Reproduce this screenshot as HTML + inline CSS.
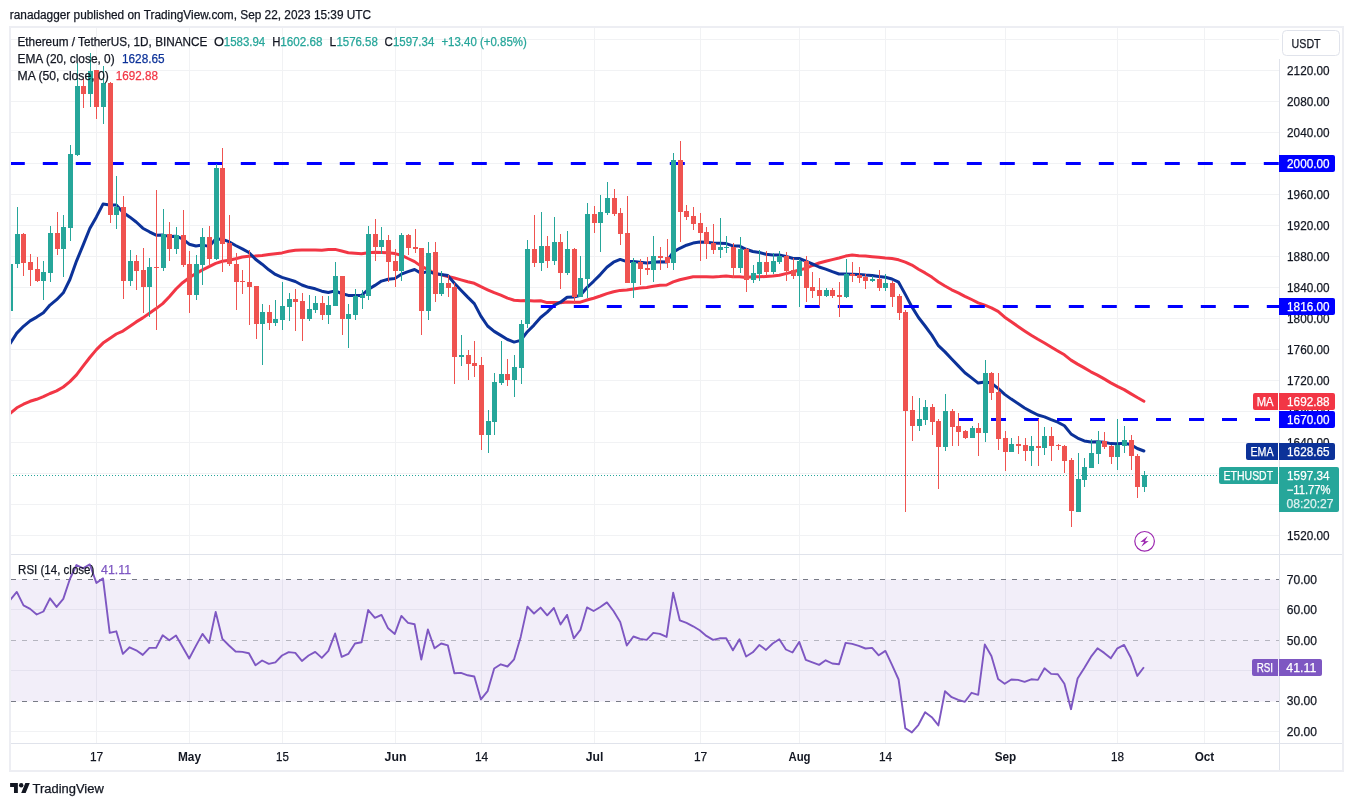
<!DOCTYPE html>
<html><head><meta charset="utf-8"><title>ETHUSDT chart</title>
<style>html,body{margin:0;padding:0;background:#fff}svg{display:block}</style></head>
<body>
<svg width="1353" height="806" viewBox="0 0 1353 806" font-family='"Liberation Sans", sans-serif' font-size="12" stroke-width="0.25">
<rect width="1353" height="806" fill="#fff"/>
<text x="9.8" y="18.6" fill="#131722" stroke="#131722" textLength="361.3" lengthAdjust="spacingAndGlyphs">ranadagger published on TradingView.com, Sep 22, 2023 15:39 UTC</text>
<rect x="10" y="27" width="1333" height="744" fill="#fff" stroke="#edeef3" stroke-width="2"/>
<path d="M96.5 28V743M189.5 28V743M282.5 28V743M395.5 28V743M481.5 28V743M594.5 28V743M700.5 28V743M799.5 28V743M885.5 28V743M1005.5 28V743M1117.5 28V743M1204.5 28V743M11 39.5H1279M11 70.5H1279M11 101.5H1279M11 132.5H1279M11 163.5H1279M11 194.5H1279M11 225.5H1279M11 256.5H1279M11 287.5H1279M11 318.5H1279M11 349.5H1279M11 380.5H1279M11 411.5H1279M11 442.5H1279M11 473.5H1279M11 504.5H1279M11 535.5H1279M11 609.5H1279M11 670.5H1279M11 731.5H1279" stroke="#f1f2f4" stroke-width="1" fill="none"/>
<path d="M11 554.5H1342M11 743.5H1342M1279.5 59V770" stroke="#e0e3eb" stroke-width="1" fill="none"/>
<rect x="11" y="579.5" width="1268" height="122" fill="#7e57c2" fill-opacity="0.1"/>
<path d="M11 579.5H1279M11 701.5H1279" stroke="#787b86" stroke-width="1" stroke-dasharray="5 6" fill="none"/>
<path d="M11 640.5H1279" stroke="#787b86" stroke-opacity="0.5" stroke-width="1" stroke-dasharray="5 6" fill="none"/>
<clipPath id="cp"><rect x="11" y="28" width="1268" height="526"/></clipPath>
<clipPath id="cr"><rect x="11" y="555" width="1268" height="188"/></clipPath>
<g clip-path="url(#cp)">
<path d="M10.2 413.4L16.8 407.8L23.5 404.2L30.1 401.3L36.7 399.3L43.4 396.7L50.0 393.5L56.6 390.9L63.3 387.0L69.9 381.6L76.5 374.9L83.1 366.1L89.8 357.5L96.4 349.6L103.0 343.1L109.7 338.4L116.3 334.0L122.9 331.1L129.6 326.5L136.2 321.9L142.8 317.9L149.4 313.2L156.1 308.6L162.7 303.6L169.3 296.7L176.0 289.0L182.6 282.7L189.2 277.8L195.9 273.6L202.5 269.9L209.1 266.6L215.7 263.4L222.4 261.3L229.0 260.2L235.6 258.8L242.3 257.0L248.9 256.2L255.5 255.9L262.1 255.4L268.8 254.6L275.4 253.8L282.0 252.9L288.7 251.3L295.3 250.3L301.9 250.1L308.6 249.9L315.2 249.9L321.8 250.2L328.4 249.6L335.1 249.4L341.7 251.0L348.3 252.7L355.0 253.3L361.6 253.8L368.2 252.8L374.9 252.3L381.5 252.5L388.1 252.7L394.8 253.6L401.4 255.2L408.0 258.5L414.6 261.6L421.3 266.4L427.9 269.3L434.5 273.5L441.2 274.9L447.8 276.5L454.4 278.0L461.0 279.9L467.7 281.8L474.3 283.3L480.9 286.7L487.6 289.8L494.2 292.7L500.8 295.2L507.5 298.1L514.1 300.2L520.7 300.7L527.4 300.4L534.0 301.0L540.6 300.7L547.2 302.6L553.9 302.5L560.5 302.7L567.1 302.1L573.8 302.3L580.4 302.2L587.0 300.0L593.6 298.2L600.3 296.0L606.9 293.6L613.5 291.7L620.2 290.4L626.8 290.0L633.4 288.9L640.1 288.1L646.7 287.4L653.3 286.2L659.9 285.3L666.6 285.0L673.2 281.9L679.8 279.8L686.5 278.2L693.1 276.8L699.7 276.8L706.4 276.7L713.0 276.9L719.6 276.6L726.2 276.1L732.9 276.8L739.5 276.8L746.1 277.4L752.8 276.7L759.4 276.8L766.0 276.4L772.7 276.0L779.3 275.3L785.9 273.6L792.5 272.0L799.2 270.0L805.8 268.4L812.4 265.5L819.1 263.0L825.7 261.2L832.3 259.6L839.0 258.0L845.6 256.1L852.2 255.1L858.8 255.7L865.5 256.1L872.1 256.7L878.7 257.3L885.4 258.1L892.0 258.6L898.6 259.8L905.3 262.1L911.9 265.1L918.5 269.2L925.1 272.9L931.8 277.1L938.4 282.0L945.0 286.0L951.7 289.8L958.3 292.8L964.9 296.3L971.6 299.5L978.2 302.8L984.8 305.1L991.4 307.8L998.1 311.3L1004.7 317.2L1011.3 321.8L1018.0 326.4L1024.6 330.9L1031.2 335.2L1037.9 339.3L1044.5 343.0L1051.1 347.0L1057.8 351.0L1064.4 354.8L1071.0 360.1L1077.6 364.1L1084.3 367.9L1090.9 371.8L1097.5 375.1L1104.2 378.9L1110.8 382.9L1117.4 386.4L1124.1 389.6L1130.7 393.6L1137.3 397.5L1143.9 401.2" stroke="#f23645" stroke-width="3" fill="none" stroke-linejoin="round" stroke-linecap="round"/>
<path d="M10.2 343.5L16.8 333.1L23.5 326.3L30.1 320.9L36.7 317.1L43.4 312.8L50.0 305.1L56.6 299.7L63.3 292.8L69.9 279.5L76.5 261.1L83.1 245.1L89.8 228.5L96.4 216.9L103.0 204.1L109.7 205.0L116.3 205.1L122.9 212.3L129.6 216.9L136.2 222.0L142.8 228.2L149.4 231.8L156.1 235.2L162.7 235.1L169.3 236.4L176.0 236.2L182.6 238.9L189.2 244.2L195.9 246.0L202.5 245.1L209.1 246.4L215.7 238.9L222.4 239.3L229.0 241.7L235.6 245.5L242.3 248.9L248.9 252.5L255.5 259.2L262.1 264.2L268.8 269.8L275.4 274.4L282.0 277.4L288.7 279.4L295.3 281.5L301.9 285.0L308.6 287.3L315.2 288.8L321.8 291.2L328.4 292.5L335.1 290.9L341.7 293.5L348.3 295.4L355.0 295.5L361.6 295.4L368.2 289.5L374.9 285.4L381.5 281.1L388.1 279.2L394.8 278.4L401.4 274.2L408.0 271.7L414.6 269.5L421.3 273.4L427.9 271.4L434.5 273.5L441.2 274.4L447.8 275.6L454.4 283.3L461.0 290.2L467.7 297.1L474.3 303.6L480.9 316.1L487.6 326.0L494.2 331.4L500.8 335.4L507.5 339.5L514.1 342.1L520.7 340.4L527.4 331.7L534.0 325.1L540.6 317.5L547.2 312.1L553.9 305.4L560.5 302.2L567.1 297.2L573.8 297.1L580.4 295.3L587.0 287.5L593.6 281.3L600.3 274.6L606.9 267.3L613.5 262.2L620.2 259.4L626.8 261.6L633.4 261.6L640.1 262.3L646.7 263.0L653.3 262.3L659.9 261.8L666.6 261.9L673.2 252.1L679.8 248.3L686.5 245.2L693.1 243.1L699.7 242.1L706.4 242.2L713.0 242.9L719.6 243.3L726.2 243.6L732.9 245.9L739.5 246.1L746.1 249.3L752.8 251.5L759.4 252.5L766.0 254.3L772.7 254.9L779.3 255.0L785.9 256.4L792.5 258.2L799.2 258.5L805.8 261.2L812.4 264.0L819.1 267.0L825.7 269.2L832.3 271.7L839.0 274.0L845.6 274.0L852.2 274.2L858.8 274.5L865.5 275.1L872.1 275.4L878.7 276.6L885.4 277.2L892.0 279.0L898.6 282.2L905.3 294.4L911.9 306.9L918.5 317.5L925.1 326.0L931.8 335.1L938.4 345.7L945.0 351.9L951.7 359.0L958.3 365.9L964.9 372.7L971.6 377.9L978.2 383.1L984.8 382.1L991.4 383.1L998.1 388.4L1004.7 394.4L1011.3 399.1L1018.0 403.5L1024.6 408.0L1031.2 411.6L1037.9 415.0L1044.5 416.9L1051.1 419.7L1057.8 422.2L1064.4 425.8L1071.0 433.9L1077.6 438.1L1084.3 440.9L1090.9 442.0L1097.5 441.8L1104.2 442.3L1110.8 443.6L1117.4 443.7L1124.1 443.3L1130.7 444.5L1137.3 448.5L1143.9 451.0" stroke="#0c3299" stroke-width="3" fill="none" stroke-linejoin="round" stroke-linecap="round"/>
<path d="M9.8 163.5H1279" stroke="#0000ff" stroke-width="3" stroke-dasharray="15 18" fill="none"/>
<path d="M540.8 306.5H1279" stroke="#0000ff" stroke-width="3" stroke-dasharray="15 18" fill="none"/>
<path d="M958 419.5H1279" stroke="#0000ff" stroke-width="3" stroke-dasharray="15 18" fill="none"/>
<path d="M10 475.5H1219" stroke="#26a69a" stroke-width="1" stroke-dasharray="1 2" fill="none"/>
<path d="M10.5 247V316M17.5 207V268M43.5 261V300M50.5 226V282M63.5 215V277M70.5 145V241M77.5 63V156M90.5 53V107M103.5 66V124M116.5 176V229M130.5 250V286M149.5 258V317M163.5 209V271M176.5 227V254M196.5 255V300M202.5 228V285M216.5 164V260M262.5 304V365M275.5 300V326M282.5 282V330M289.5 293V321M309.5 295V321M315.5 296V313M328.5 296V324M335.5 262V306M348.5 304V348M355.5 289V320M362.5 290V309M368.5 226V300M381.5 227V254M401.5 233V281M428.5 242V320M441.5 271V296M461.5 335V366M488.5 410V453M494.5 373V435M501.5 341V385M514.5 355V397M521.5 320V384M527.5 240V328M541.5 212V271M554.5 217V265M567.5 231V275M580.5 256V297M587.5 203V298M600.5 195V252M607.5 182V215M633.5 258V298M653.5 236V282M673.5 153V270M720.5 218V258M726.5 236V253M740.5 237V273M753.5 265V283M759.5 250V281M773.5 253V274M779.5 251V264M799.5 259V307M826.5 288V297M846.5 259V298M872.5 276V282M885.5 274V291M919.5 398V431M925.5 400V425M945.5 394V451M972.5 426V438M985.5 360V442M1011.5 438V452M1031.5 436V466M1044.5 427V455M1078.5 453V512M1084.5 458V487M1091.5 439V468M1098.5 431V464M1117.5 419V470M1124.5 426V453M1144.5 471V492" stroke="#26a69a" stroke-width="1" fill="none"/>
<path d="M8 264h5v47h-5zM15 234h5v30h-5zM41 272h5v9h-5zM48 233h5v40h-5zM61 227h5v22h-5zM68 154h5v74h-5zM75 86h5v69h-5zM88 71h5v23h-5zM101 83h5v24h-5zM114 207h5v8h-5zM128 261h5v20h-5zM147 267h5v20h-5zM161 234h5v34h-5zM174 235h5v14h-5zM194 264h5v31h-5zM200 237h5v28h-5zM214 168h5v91h-5zM260 312h5v12h-5zM273 319h5v4h-5zM280 306h5v14h-5zM287 299h5v8h-5zM307 309h5v10h-5zM313 303h5v7h-5zM326 305h5v10h-5zM333 276h5v30h-5zM346 314h5v5h-5zM353 296h5v19h-5zM360 295h5v3h-5zM366 234h5v62h-5zM379 240h5v7h-5zM399 235h5v36h-5zM426 253h5v58h-5zM439 283h5v11h-5zM459 355h5v2h-5zM486 421h5v14h-5zM492 382h5v40h-5zM499 374h5v9h-5zM512 367h5v13h-5zM519 324h5v44h-5zM525 249h5v75h-5zM539 246h5v17h-5zM552 242h5v19h-5zM565 249h5v24h-5zM578 278h5v19h-5zM585 214h5v65h-5zM598 212h5v11h-5zM605 198h5v15h-5zM631 262h5v21h-5zM651 256h5v14h-5zM671 160h5v103h-5zM718 247h5v3h-5zM724 247h5v1h-5zM738 249h5v19h-5zM751 273h5v7h-5zM757 262h5v12h-5zM771 261h5v11h-5zM777 256h5v6h-5zM797 261h5v15h-5zM824 290h5v6h-5zM844 274h5v23h-5zM870 279h5v2h-5zM883 283h5v5h-5zM917 419h5v7h-5zM923 407h5v13h-5zM943 411h5v36h-5zM970 428h5v10h-5zM983 373h5v60h-5zM1009 444h5v8h-5zM1029 446h5v5h-5zM1042 436h5v12h-5zM1076 479h5v33h-5zM1082 467h5v13h-5zM1089 453h5v15h-5zM1096 441h5v13h-5zM1115 445h5v12h-5zM1122 440h5v6h-5zM1142 475h5v12h-5z" fill="#26a69a"/>
<path d="M23.5 233V276M30.5 254V286M37.5 257V282M57.5 212V255M83.5 78V108M96.5 70V119M110.5 82V223M123.5 196V299M136.5 255V290M143.5 248V313M156.5 190V330M169.5 222V261M183.5 210V267M189.5 251V313M209.5 226V266M222.5 148V272M229.5 215V266M236.5 253V310M242.5 270V294M249.5 250V325M256.5 286V339M269.5 305V330M295.5 289V331M302.5 293V341M322.5 296V320M342.5 276V335M375.5 219V261M388.5 235V282M395.5 249V287M408.5 234V255M415.5 229V253M421.5 248V335M435.5 242V302M448.5 275V297M454.5 283V384M468.5 350V380M474.5 341V377M481.5 357V450M507.5 359V386M534.5 215V267M547.5 236V268M560.5 234V289M574.5 248V304M594.5 206V233M614.5 189V216M620.5 208V245M627.5 196V283M640.5 259V285M647.5 257V275M660.5 247V270M667.5 239V268M680.5 141V242M686.5 205V220M693.5 207V230M700.5 213V261M706.5 227V259M713.5 224V254M733.5 243V278M746.5 248V292M766.5 251V276M786.5 252V281M793.5 258V279M806.5 256V302M812.5 272V298M819.5 278V306M832.5 288V298M839.5 282V317M852.5 262V282M859.5 267V283M865.5 274V289M879.5 270V291M892.5 281V307M899.5 294V320M905.5 310V512M912.5 396V441M932.5 404V435M938.5 419V489M952.5 409V446M958.5 413V446M965.5 430V439M978.5 423V456M991.5 372V400M998.5 373V450M1005.5 431V471M1018.5 436V454M1025.5 438V461M1038.5 419V466M1051.5 427V461M1058.5 444V450M1064.5 445V473M1071.5 458V527M1104.5 432V449M1111.5 445V464M1131.5 435V470M1137.5 454V498" stroke="#ef5350" stroke-width="1" fill="none"/>
<path d="M21 234h5v29h-5zM28 262h5v8h-5zM35 269h5v12h-5zM55 233h5v16h-5zM81 86h5v8h-5zM94 70h5v37h-5zM108 83h5v132h-5zM121 207h5v74h-5zM134 261h5v10h-5zM141 270h5v17h-5zM154 267h5v1h-5zM167 234h5v15h-5zM181 235h5v30h-5zM187 264h5v31h-5zM207 237h5v22h-5zM220 168h5v76h-5zM227 243h5v21h-5zM234 264h5v18h-5zM240 281h5v1h-5zM247 282h5v5h-5zM254 286h5v38h-5zM267 312h5v11h-5zM293 299h5v3h-5zM300 301h5v18h-5zM320 303h5v12h-5zM340 276h5v43h-5zM373 234h5v13h-5zM386 240h5v22h-5zM393 261h5v10h-5zM406 235h5v13h-5zM413 247h5v2h-5zM419 248h5v63h-5zM433 252h5v42h-5zM446 283h5v5h-5zM452 287h5v70h-5zM466 355h5v9h-5zM472 363h5v3h-5zM479 365h5v70h-5zM505 374h5v6h-5zM532 249h5v14h-5zM545 246h5v15h-5zM558 242h5v31h-5zM572 249h5v48h-5zM592 214h5v9h-5zM612 198h5v16h-5zM618 213h5v21h-5zM625 233h5v50h-5zM638 262h5v7h-5zM645 268h5v2h-5zM658 256h5v2h-5zM665 257h5v6h-5zM678 160h5v52h-5zM684 211h5v6h-5zM691 216h5v8h-5zM698 223h5v10h-5zM704 232h5v12h-5zM711 243h5v7h-5zM731 247h5v21h-5zM744 249h5v31h-5zM764 262h5v10h-5zM784 256h5v15h-5zM791 270h5v6h-5zM804 261h5v27h-5zM810 287h5v4h-5zM817 290h5v6h-5zM830 290h5v6h-5zM837 295h5v2h-5zM850 274h5v2h-5zM857 275h5v3h-5zM863 277h5v4h-5zM877 279h5v9h-5zM890 283h5v14h-5zM897 296h5v17h-5zM903 312h5v99h-5zM910 410h5v16h-5zM930 407h5v15h-5zM936 421h5v26h-5zM950 411h5v16h-5zM956 426h5v6h-5zM963 431h5v7h-5zM976 428h5v5h-5zM989 373h5v20h-5zM996 392h5v47h-5zM1003 438h5v14h-5zM1016 444h5v2h-5zM1023 445h5v6h-5zM1036 446h5v2h-5zM1049 436h5v10h-5zM1056 445h5v1h-5zM1062 446h5v15h-5zM1069 460h5v51h-5zM1102 441h5v6h-5zM1109 446h5v11h-5zM1129 440h5v16h-5zM1135 456h5v31h-5z" fill="#ef5350"/>
<circle cx="1144.6" cy="541.3" r="9.8" fill="#fff" stroke="#9c27b0" stroke-width="1.2"/>
<path d="M1147.7 536L1140.3 542L1144.2 541.7L1141.3 546.8L1148.7 541L1144.9 541.3z" fill="#9c27b0"/>
</g>
<g clip-path="url(#cr)">
<path d="M10.2 599.9L16.8 591.9L23.5 605.3L30.1 608.9L36.7 614.5L43.4 611.5L50.0 598.3L56.6 606.9L63.3 598.9L69.9 579.0L76.5 565.0L83.1 568.4L89.8 564.4L96.4 583.0L103.0 578.4L109.7 632.9L116.3 631.3L122.9 653.9L129.6 647.3L136.2 650.3L142.8 654.9L149.4 647.9L156.1 647.9L162.7 635.3L169.3 640.3L176.0 635.5L182.6 646.9L189.2 658.5L195.9 645.9L202.5 633.9L209.1 642.9L215.7 611.9L222.4 638.9L229.0 645.5L235.6 651.5L242.3 651.9L248.9 653.3L255.5 665.2L262.1 660.5L268.8 663.9L275.4 662.3L282.0 655.5L288.7 652.1L295.3 652.9L301.9 660.9L308.6 655.5L315.2 651.9L321.8 657.9L328.4 650.9L335.1 633.5L341.7 656.9L348.3 653.9L355.0 643.5L361.6 642.3L368.2 610.0L374.9 617.9L381.5 614.9L388.1 628.3L394.8 633.9L401.4 615.9L408.0 622.9L414.6 624.3L421.3 659.5L427.9 629.5L434.5 648.3L441.2 643.5L447.8 645.3L454.4 673.3L461.0 672.9L467.7 675.3L474.3 676.5L480.9 699.4L487.6 691.2L494.2 668.5L500.8 664.3L507.5 666.5L514.1 659.3L520.7 636.9L527.4 606.6L534.0 613.5L540.6 607.6L547.2 615.3L553.9 608.0L560.5 624.5L567.1 614.9L573.8 638.3L580.4 629.9L587.0 607.4L593.6 611.0L600.3 607.0L606.9 602.4L613.5 611.0L620.2 621.9L626.8 645.5L633.4 636.5L640.1 638.9L646.7 639.9L653.3 632.9L659.9 633.9L666.6 636.9L673.2 592.6L679.8 620.3L686.5 622.9L693.1 626.3L699.7 630.3L706.4 635.9L713.0 639.9L719.6 638.3L726.2 638.3L732.9 650.3L739.5 639.3L746.1 656.5L752.8 652.3L759.4 644.9L766.0 649.9L772.7 643.5L779.3 639.3L785.9 649.5L792.5 652.5L799.2 641.9L805.8 659.9L812.4 662.3L819.1 664.9L825.7 660.3L832.3 663.5L839.0 664.3L845.6 642.9L852.2 643.9L858.8 645.9L865.5 648.5L872.1 647.9L878.7 655.3L885.4 650.9L892.0 664.9L898.6 679.5L905.3 728.2L911.9 732.4L918.5 724.8L925.1 712.2L931.8 717.2L938.4 725.4L945.0 691.2L951.7 697.2L958.3 699.8L964.9 701.8L971.6 692.8L978.2 694.8L984.8 644.5L991.4 655.9L998.1 678.9L1004.7 683.8L1011.3 679.5L1018.0 679.9L1024.6 681.9L1031.2 679.3L1037.9 679.9L1044.5 668.3L1051.1 673.9L1057.8 674.3L1064.4 683.8L1071.0 709.2L1077.6 678.5L1084.3 667.9L1090.9 656.9L1097.5 648.3L1104.2 652.9L1110.8 658.3L1117.4 648.3L1124.1 644.9L1130.7 657.5L1137.3 675.9L1143.9 667.2" stroke="#7e57c2" stroke-width="1.9" fill="none" stroke-linejoin="round"/>
</g>
<text x="17.5" y="46.1" fill="#131722" stroke="#131722" textLength="189.9" lengthAdjust="spacingAndGlyphs">Ethereum / TetherUS, 1D, BINANCE</text>
<text x="214.0" y="46.1" fill="#131722" stroke="#131722" textLength="10.0" lengthAdjust="spacingAndGlyphs">O</text>
<text x="223.8" y="46.1" fill="#26a69a" stroke="#26a69a" textLength="41.4" lengthAdjust="spacingAndGlyphs">1583.94</text>
<text x="272.3" y="46.1" fill="#131722" stroke="#131722" textLength="8.2" lengthAdjust="spacingAndGlyphs">H</text>
<text x="280.3" y="46.1" fill="#26a69a" stroke="#26a69a" textLength="42.2" lengthAdjust="spacingAndGlyphs">1602.68</text>
<text x="329.6" y="46.1" fill="#131722" stroke="#131722" textLength="6.7" lengthAdjust="spacingAndGlyphs">L</text>
<text x="336.4" y="46.1" fill="#26a69a" stroke="#26a69a" textLength="41.4" lengthAdjust="spacingAndGlyphs">1576.58</text>
<text x="384.6" y="46.1" fill="#131722" stroke="#131722" textLength="8.3" lengthAdjust="spacingAndGlyphs">C</text>
<text x="392.9" y="46.1" fill="#26a69a" stroke="#26a69a" textLength="41.4" lengthAdjust="spacingAndGlyphs">1597.34</text>
<text x="441.4" y="46.1" fill="#26a69a" stroke="#26a69a" textLength="85.4" lengthAdjust="spacingAndGlyphs">+13.40 (+0.85%)</text>
<text x="17.5" y="62.7" fill="#131722" stroke="#131722" textLength="97.2" lengthAdjust="spacingAndGlyphs">EMA (20, close, 0)</text>
<text x="122.0" y="62.7" fill="#0c3299" stroke="#0c3299" textLength="42.6" lengthAdjust="spacingAndGlyphs">1628.65</text>
<text x="17.5" y="79.7" fill="#131722" stroke="#131722" textLength="91.3" lengthAdjust="spacingAndGlyphs">MA (50, close, 0)</text>
<text x="115.8" y="79.7" fill="#f23645" stroke="#f23645" textLength="42.1" lengthAdjust="spacingAndGlyphs">1692.88</text>
<text x="18.1" y="573.8" fill="#131722" stroke="#131722" textLength="76.2" lengthAdjust="spacingAndGlyphs">RSI (14, close)</text>
<text x="101.1" y="573.8" fill="#7e57c2" stroke="#7e57c2" textLength="29.9" lengthAdjust="spacingAndGlyphs">41.11</text>
<text x="1287.1" y="74.8" fill="#131722" stroke="#131722" textLength="42.4" lengthAdjust="spacingAndGlyphs">2120.00</text>
<text x="1287.1" y="105.8" fill="#131722" stroke="#131722" textLength="42.4" lengthAdjust="spacingAndGlyphs">2080.00</text>
<text x="1287.1" y="136.8" fill="#131722" stroke="#131722" textLength="42.4" lengthAdjust="spacingAndGlyphs">2040.00</text>
<text x="1287.1" y="198.8" fill="#131722" stroke="#131722" textLength="42.4" lengthAdjust="spacingAndGlyphs">1960.00</text>
<text x="1287.1" y="229.8" fill="#131722" stroke="#131722" textLength="42.4" lengthAdjust="spacingAndGlyphs">1920.00</text>
<text x="1287.1" y="260.8" fill="#131722" stroke="#131722" textLength="42.4" lengthAdjust="spacingAndGlyphs">1880.00</text>
<text x="1287.1" y="291.8" fill="#131722" stroke="#131722" textLength="42.4" lengthAdjust="spacingAndGlyphs">1840.00</text>
<text x="1287.1" y="322.8" fill="#131722" stroke="#131722" textLength="42.4" lengthAdjust="spacingAndGlyphs">1800.00</text>
<text x="1287.1" y="353.8" fill="#131722" stroke="#131722" textLength="42.4" lengthAdjust="spacingAndGlyphs">1760.00</text>
<text x="1287.1" y="384.8" fill="#131722" stroke="#131722" textLength="42.4" lengthAdjust="spacingAndGlyphs">1720.00</text>
<text x="1287.1" y="415.8" fill="#131722" stroke="#131722" textLength="42.4" lengthAdjust="spacingAndGlyphs">1680.00</text>
<text x="1287.1" y="446.8" fill="#131722" stroke="#131722" textLength="42.4" lengthAdjust="spacingAndGlyphs">1640.00</text>
<text x="1287.1" y="539.8" fill="#131722" stroke="#131722" textLength="42.4" lengthAdjust="spacingAndGlyphs">1520.00</text>
<text x="1286.8" y="583.8" fill="#131722" stroke="#131722" textLength="30.2" lengthAdjust="spacingAndGlyphs">70.00</text>
<text x="1286.8" y="614.2" fill="#131722" stroke="#131722" textLength="30.2" lengthAdjust="spacingAndGlyphs">60.00</text>
<text x="1286.8" y="644.7" fill="#131722" stroke="#131722" textLength="30.2" lengthAdjust="spacingAndGlyphs">50.00</text>
<text x="1286.8" y="705.3" fill="#131722" stroke="#131722" textLength="30.2" lengthAdjust="spacingAndGlyphs">30.00</text>
<text x="1286.8" y="735.9" fill="#131722" stroke="#131722" textLength="30.2" lengthAdjust="spacingAndGlyphs">20.00</text>
<path d="M1279 155H1333a2 2 0 0 1 2 2V170a2 2 0 0 1 -2 2H1279z" fill="#0000ff"/>
<text x="1287.1" y="167.8" fill="#fff" stroke="#fff" textLength="42.4" lengthAdjust="spacingAndGlyphs">2000.00</text>
<path d="M1279 298H1333a2 2 0 0 1 2 2V313a2 2 0 0 1 -2 2H1279z" fill="#0000ff"/>
<text x="1287.1" y="310.8" fill="#fff" stroke="#fff" textLength="42.4" lengthAdjust="spacingAndGlyphs">1816.00</text>
<path d="M1279 393H1333a2 2 0 0 1 2 2V408a2 2 0 0 1 -2 2H1279z" fill="#f23645"/>
<path d="M1278 393H1255a2 2 0 0 0 -2 2V408a2 2 0 0 0 2 2H1278z" fill="#f23645"/>
<text x="1256.7" y="405.8" fill="#fff" stroke="#fff" textLength="16.9" lengthAdjust="spacingAndGlyphs">MA</text>
<text x="1287.1" y="405.8" fill="#fff" stroke="#fff" textLength="42.4" lengthAdjust="spacingAndGlyphs">1692.88</text>
<path d="M1279 411H1333a2 2 0 0 1 2 2V426a2 2 0 0 1 -2 2H1279z" fill="#0000ff"/>
<text x="1287.1" y="423.8" fill="#fff" stroke="#fff" textLength="42.4" lengthAdjust="spacingAndGlyphs">1670.00</text>
<path d="M1279 443H1333a2 2 0 0 1 2 2V458a2 2 0 0 1 -2 2H1279z" fill="#0c3299"/>
<path d="M1278 443H1248a2 2 0 0 0 -2 2V458a2 2 0 0 0 2 2H1278z" fill="#0c3299"/>
<text x="1250.5" y="455.8" fill="#fff" stroke="#fff" textLength="23.1" lengthAdjust="spacingAndGlyphs">EMA</text>
<text x="1287.1" y="455.8" fill="#fff" stroke="#fff" textLength="42.4" lengthAdjust="spacingAndGlyphs">1628.65</text>
<path d="M1279 467H1337a2 2 0 0 1 2 2V510a2 2 0 0 1 -2 2H1279z" fill="#26a69a"/>
<path d="M1278 467H1221a2 2 0 0 0 -2 2V482a2 2 0 0 0 2 2H1278z" fill="#26a69a"/>
<text x="1223.6" y="479.8" fill="#fff" stroke="#fff" textLength="49.5" lengthAdjust="spacingAndGlyphs">ETHUSDT</text>
<text x="1287.1" y="480.0" fill="#fff" stroke="#fff" textLength="42.4" lengthAdjust="spacingAndGlyphs">1597.34</text>
<text x="1286.7" y="494.0" fill="#fff" stroke="#fff" textLength="43.8" lengthAdjust="spacingAndGlyphs">−11.77%</text>
<text x="1286.4" y="508.0" fill="#fff" stroke="#fff" textLength="47.2" lengthAdjust="spacingAndGlyphs" fill-opacity="0.8" stroke-opacity="0.8">08:20:27</text>
<path d="M1279 659H1320a2 2 0 0 1 2 2V674a2 2 0 0 1 -2 2H1279z" fill="#7e57c2"/>
<path d="M1278 659H1254a2 2 0 0 0 -2 2V674a2 2 0 0 0 2 2H1278z" fill="#7e57c2"/>
<text x="1256.7" y="671.8" fill="#fff" stroke="#fff" textLength="16.4" lengthAdjust="spacingAndGlyphs">RSI</text>
<text x="1286.3" y="671.8" fill="#fff" stroke="#fff" textLength="30.0" lengthAdjust="spacingAndGlyphs">41.11</text>
<rect x="1282.5" y="30.5" width="57" height="25" rx="4" fill="#fff" stroke="#e0e3eb" stroke-width="1"/>
<text x="1291.6" y="47.8" fill="#131722" stroke="#131722" textLength="29.0" lengthAdjust="spacingAndGlyphs">USDT</text>
<text x="96.5" y="761.0" fill="#131722" stroke="#131722" textLength="13.2" lengthAdjust="spacingAndGlyphs" text-anchor="middle">17</text>
<text x="189.5" y="761.0" fill="#131722" stroke="#131722" textLength="23.1" lengthAdjust="spacingAndGlyphs" text-anchor="middle" font-weight="bold" stroke-width="0">May</text>
<text x="282.5" y="761.0" fill="#131722" stroke="#131722" textLength="12.8" lengthAdjust="spacingAndGlyphs" text-anchor="middle">15</text>
<text x="395.5" y="761.0" fill="#131722" stroke="#131722" textLength="21.8" lengthAdjust="spacingAndGlyphs" text-anchor="middle" font-weight="bold" stroke-width="0">Jun</text>
<text x="481.5" y="761.0" fill="#131722" stroke="#131722" textLength="13.2" lengthAdjust="spacingAndGlyphs" text-anchor="middle">14</text>
<text x="594.5" y="761.0" fill="#131722" stroke="#131722" textLength="17.6" lengthAdjust="spacingAndGlyphs" text-anchor="middle" font-weight="bold" stroke-width="0">Jul</text>
<text x="700.5" y="761.0" fill="#131722" stroke="#131722" textLength="13.2" lengthAdjust="spacingAndGlyphs" text-anchor="middle">17</text>
<text x="799.5" y="761.0" fill="#131722" stroke="#131722" textLength="22.1" lengthAdjust="spacingAndGlyphs" text-anchor="middle" font-weight="bold" stroke-width="0">Aug</text>
<text x="885.5" y="761.0" fill="#131722" stroke="#131722" textLength="13.2" lengthAdjust="spacingAndGlyphs" text-anchor="middle">14</text>
<text x="1005.5" y="761.0" fill="#131722" stroke="#131722" textLength="21.6" lengthAdjust="spacingAndGlyphs" text-anchor="middle" font-weight="bold" stroke-width="0">Sep</text>
<text x="1117.5" y="761.0" fill="#131722" stroke="#131722" textLength="13.0" lengthAdjust="spacingAndGlyphs" text-anchor="middle">18</text>
<text x="1204.5" y="761.0" fill="#131722" stroke="#131722" textLength="19.6" lengthAdjust="spacingAndGlyphs" text-anchor="middle" font-weight="bold" stroke-width="0">Oct</text>
<g transform="translate(10.1 780.9) scale(0.555)" fill="#131722"><path d="M14 22H7V11H0V4h14v18zM28 22h-8l7.5-18h8L28 22z"/><circle cx="20" cy="8" r="4"/></g>
<text x="32.6" y="792.7" fill="#131722" stroke="#131722" font-size="12.2" textLength="71.2" lengthAdjust="spacingAndGlyphs">TradingView</text>
</svg>
</body></html>
